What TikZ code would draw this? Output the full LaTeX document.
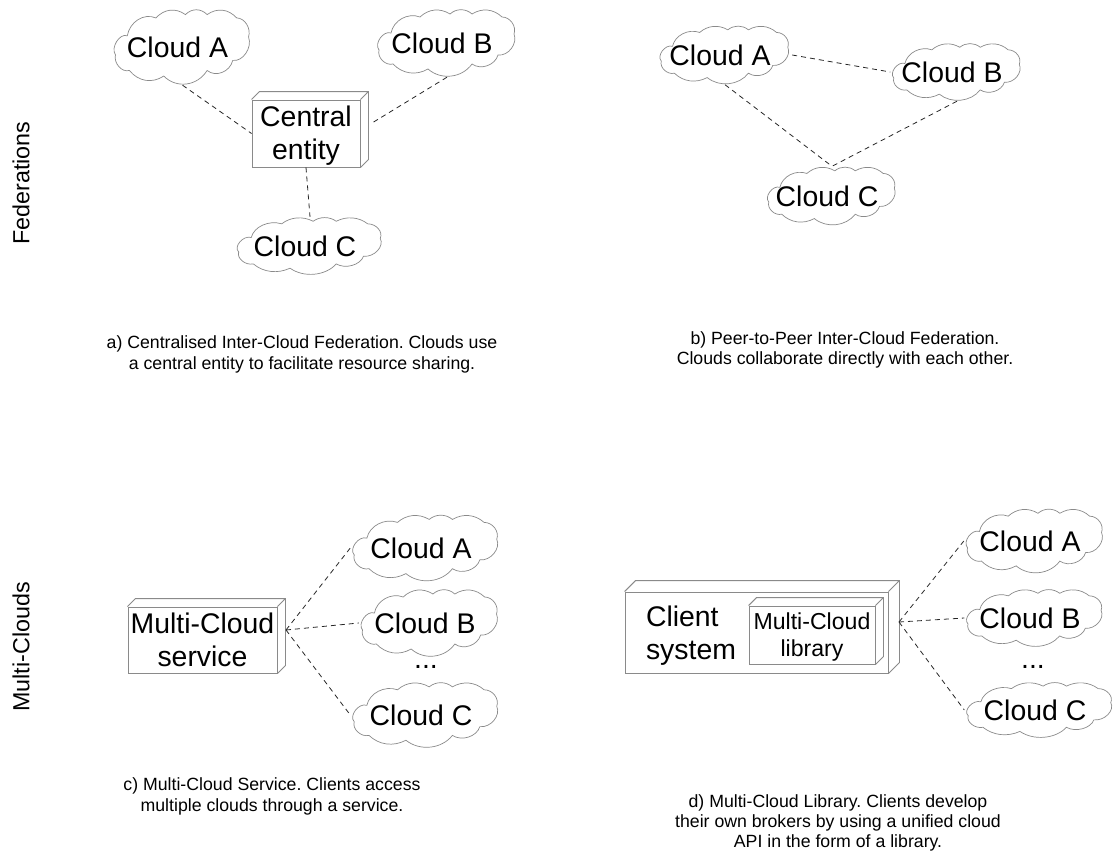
\documentclass[tikz,border=0pt]{standalone}
\usepackage{fontspec}
\setmainfont{Liberation Sans}
\usetikzlibrary{calc}
\definecolor{edgegray}{HTML}{8A8A8A}
\frenchspacing
\tikzset{
    x=1pt, y=-1pt, % same units as the page
    cloudline/.style={draw=edgegray, line width=0.7pt},
    cloud text/.style={inner sep=0pt, font=\fontsize{28.4}{33}\selectfont, execute at begin node={\hspace*{-10pt}}},
    boxed/.style={draw=edgegray, line width=0.9pt, inner sep=0pt, align=center, font=\fontsize{28.4}{33}\selectfont,
        append after command={\pgfextra{\draw[edgegray, line width=0.9pt]
            (\tikzlastnode.north west) -- ++(#1,-#1) -| ($(\tikzlastnode.south east)+(#1,-#1)$) -- (\tikzlastnode.south east)
            (\tikzlastnode.north east) -- ++(#1,-#1);}}},
    box text/.style={inner sep=0pt, font=\fontsize{28.4}{33}\selectfont},
    link/.style={dashed, dash pattern=on 5pt off 4pt, line width=0.8pt, black!85},
    caption/.style={align=center, inner sep=0pt, font=\fontsize{17.7}{20.3}\selectfont},
    side title/.style={rotate=90, inner sep=0pt, font=\fontsize{23.3}{26}\selectfont},
}
% name, centre, width, height, text
\newcommand{\cloudnode}[5]{
    \draw[cloudline, shift={(#2)}, xscale=#3/143, yscale=#4/68]
        (-68,7) to[bend left=75] (-56,-10) to[bend left=50] (-27,-26) to[bend left=38] (3,-29)
        to[bend left=42] (25,-29) to[bend left=38] (55,-26) to[bend left=55] (67,-9)
        to[bend left=60] (51,12) to[bend left=55] (25,21) to[bend left=48] (-19,26)
        to[bend left=38] (-54,21) to[bend left=60] cycle;
    \node[cloud text, minimum width=#3pt, minimum height=#4pt] (#1) at (#2) {#5};
}

\begin{document}
\begin{tikzpicture}
    \useasboundingbox (0,0) rectangle (1116,851);

    \node[side title] (fedtitle) at (21,183) {Federations};
    \node[side title] (multititle) at (21,647) {Multi-Clouds};

    % a) central entity
    \cloudnode{aA}{182.5,47}{141}{76}{Cloud A}
    \cloudnode{aB}{447,43}{143}{68}{Cloud B}
    \cloudnode{aC}{310,246}{150}{58}{Cloud C}
    \node[boxed=8, minimum width=108pt, minimum height=67pt] (central) at (306,133.5) {};
    \node[box text, align=center] (centraltext) at (306,136) {Central\\entity};
    \coordinate (centralport) at (372,123);
    \draw[link] (aA.south) -- (central.west);
    \draw[link] (aB.south) -- (centralport);
    \draw[link] (central.south) -- (aC.north);
    \node[caption] (capa) at (302,354.5) {a) Centralised Inter-Cloud Federation. Clouds use\\a central entity to facilitate resource sharing.};

    % b) peer to peer
    \cloudnode{bA}{725,55}{134}{59}{Cloud A}
    \cloudnode{bB}{957,72}{133}{58}{Cloud B}
    \cloudnode{bC}{832,196}{133}{59}{Cloud C}
    \draw[link] (bA.east) -- (bB.west);
    \draw[link] (bA.south) -- (bC.north);
    \draw[link] (bB.south) -- (bC.north);
    \node[caption] (capb) at (845,350) {b) Peer-to-Peer Inter-Cloud Federation.\\Clouds collaborate directly with each other.};

    % c) service
    \cloudnode{cA}{426,548}{151}{67}{Cloud A}
    \cloudnode{cB}{430,623}{142}{68}{Cloud B}
    \cloudnode{cC}{426,715}{151}{66}{Cloud C}
    \node[boxed=8, minimum width=149pt, minimum height=66pt] (service) at (202.5,640) {Multi-Cloud\\service};
    \coordinate (serviceport) at (286,630);
    \foreach \c in {cA,cB,cC}
        \draw[link] (serviceport) -- (\c.west);
    \node[box text, anchor=base] (cdots) at (426,668) {...};
    \node[caption] (capc) at (272,796.5) {c) Multi-Cloud Service. Clients access\\multiple clouds through a service.};

    % d) library
    \cloudnode{dA}{1035,541}{142}{65}{Cloud A}
    \cloudnode{dB}{1035,618}{141}{58}{Cloud B}
    \cloudnode{dC}{1040,710}{151}{56}{Cloud C}
    \node[boxed=11, minimum width=263pt, minimum height=81pt] (client) at (756.5,632.5) {};
    \node[box text, align=left] (clienttext) at (691,636) {Client\\system};
    \node[boxed=8, minimum width=126pt, minimum height=58pt] (library) at (812,635) {};
    \node[box text, align=center, font=\fontsize{23.1}{27}\selectfont] (librarytext) at (812,637) {Multi-Cloud\\library};
    \coordinate (clientport) at (899,622);
    \foreach \c in {dA,dB,dC}
        \draw[link] (clientport) -- (\c.west);
    \node[box text, anchor=base] (ddots) at (1033,668) {...};
    \node[caption] (capd) at (838,823) {d) Multi-Cloud Library. Clients develop\\their own brokers by using a unified cloud\\API in the form of a library.};
\end{tikzpicture}
\end{document}
